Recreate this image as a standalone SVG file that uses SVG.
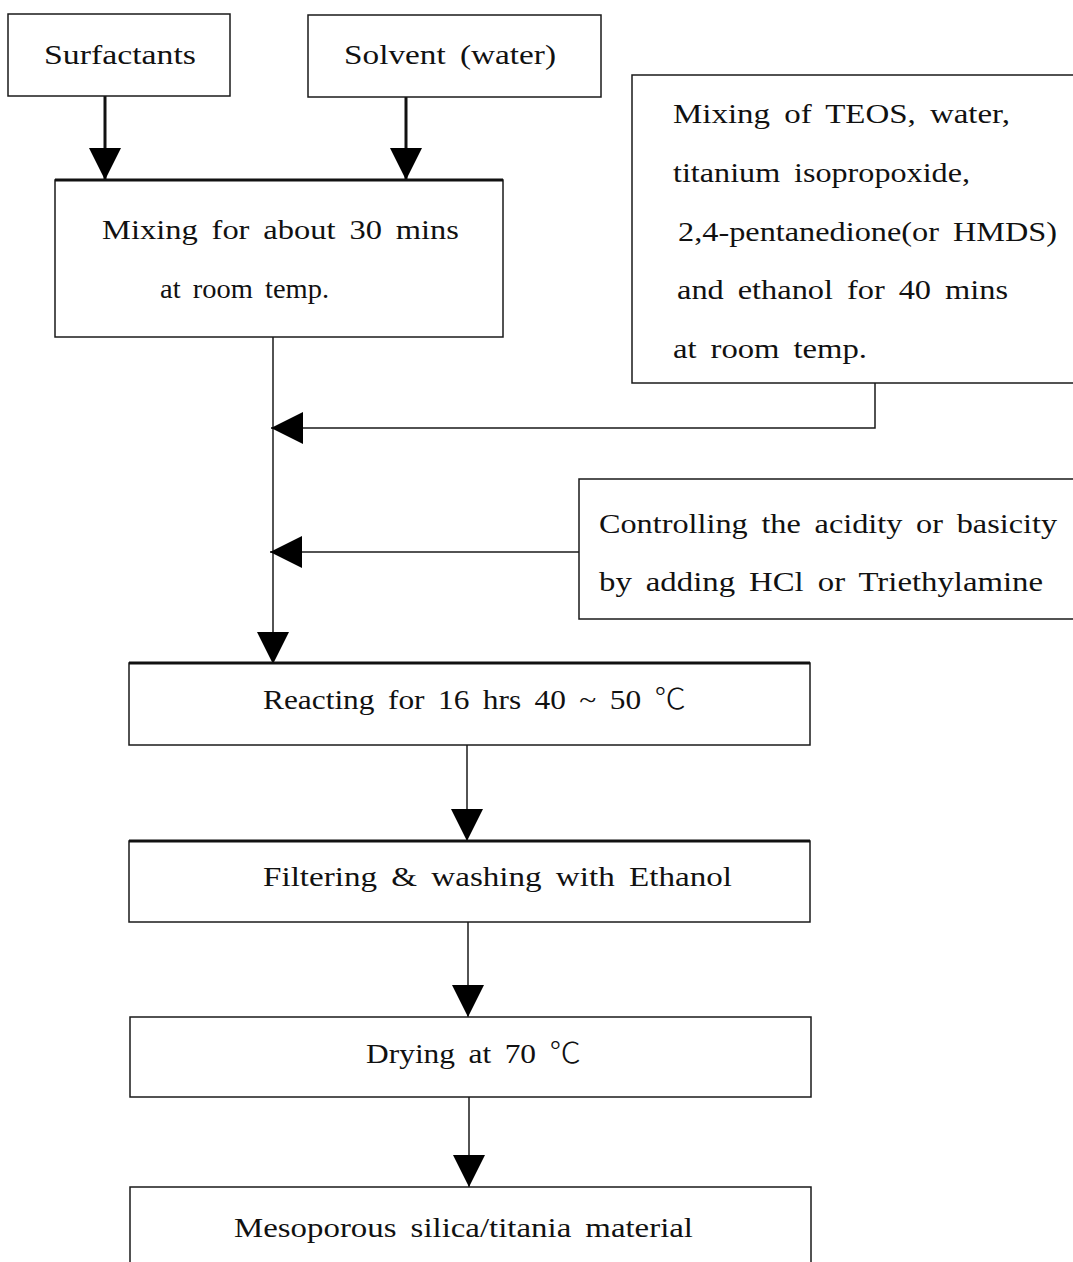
<svg xmlns="http://www.w3.org/2000/svg" width="1073" height="1262" viewBox="0 0 1073 1262">
  <style>
    .box { fill: #ffffff; stroke: #1a1a1a; stroke-width: 1.5; }
    .edge { stroke: #111111; stroke-width: 3; }
    .lbl { font-family: "Liberation Serif", "DejaVu Serif", "Noto Sans CJK KR", serif; font-size: 28px; fill: #111111; word-spacing: 5px; }
    .deg { font-family: "Noto Sans CJK KR", "DejaVu Sans", sans-serif; font-weight: 300; }
    .flow { fill: none; stroke: #1a1a1a; stroke-width: 1.5; }
    .flow-thick { fill: none; stroke: #111111; stroke-width: 3; }
  </style>
  <defs>
    <marker id="head" markerUnits="userSpaceOnUse" markerWidth="32" markerHeight="32" refX="32" refY="16" orient="auto" viewBox="0 0 32 32">
      <path d="M0,0 L32,16 L0,32 Z" fill="#000000"/>
    </marker>
  </defs>

  <!-- flow connectors -->
  <g id="connectors">
    <path class="flow-thick" d="M105,96 V180" marker-end="url(#head)"/>
    <path class="flow-thick" d="M406,97 V180" marker-end="url(#head)"/>
    <path class="flow" d="M273,337 V664" marker-end="url(#head)"/>
    <path class="flow" d="M875,383 V428 H271" marker-end="url(#head)"/>
    <path class="flow" d="M581,552 H270" marker-end="url(#head)"/>
    <path class="flow" d="M467,745 V841" marker-end="url(#head)"/>
    <path class="flow" d="M468,922 V1017" marker-end="url(#head)"/>
    <path class="flow" d="M469,1097 V1187" marker-end="url(#head)"/>
  </g>

  <g id="surfactants">
    <rect class="box" x="8" y="14" width="222" height="82"/>
    <text class="lbl" x="44" y="64" textLength="152" lengthAdjust="spacingAndGlyphs">Surfactants</text>
  </g>

  <g id="solvent">
    <rect class="box" x="308" y="15" width="293" height="82"/>
    <text class="lbl" x="344" y="64" textLength="212" lengthAdjust="spacingAndGlyphs">Solvent (water)</text>
  </g>

  <g id="mixing">
    <rect class="box" x="55" y="180" width="448" height="157"/>
    <line class="edge" x1="55" y1="180" x2="503" y2="180"/>
    <text class="lbl" x="102" y="239" textLength="357" lengthAdjust="spacingAndGlyphs">Mixing for about 30 mins</text>
    <text class="lbl" x="160" y="298" textLength="169" lengthAdjust="spacingAndGlyphs">at room temp.</text>
  </g>

  <g id="teos-mixing">
    <rect class="box" x="632" y="75" width="460" height="308"/>
    <text class="lbl" x="673" y="123" textLength="337" lengthAdjust="spacingAndGlyphs">Mixing of TEOS, water,</text>
    <text class="lbl" x="673" y="182" textLength="297" lengthAdjust="spacingAndGlyphs">titanium isopropoxide,</text>
    <text class="lbl" x="678" y="241" textLength="379" lengthAdjust="spacingAndGlyphs">2,4-pentanedione(or HMDS)</text>
    <text class="lbl" x="677" y="299" textLength="331" lengthAdjust="spacingAndGlyphs">and ethanol for 40 mins</text>
    <text class="lbl" x="673" y="358" textLength="194" lengthAdjust="spacingAndGlyphs">at room temp.</text>
  </g>

  <g id="ph-control">
    <rect class="box" x="579" y="479" width="510" height="140"/>
    <text class="lbl" x="599" y="533" textLength="458" lengthAdjust="spacingAndGlyphs">Controlling the acidity or basicity</text>
    <text class="lbl" x="599" y="591" textLength="444" lengthAdjust="spacingAndGlyphs">by adding HCl or Triethylamine</text>
  </g>

  <g id="reacting">
    <rect class="box" x="129" y="663" width="681" height="82"/>
    <line class="edge" x1="129" y1="663" x2="810" y2="663"/>
    <text class="lbl" x="263" y="709" textLength="423" lengthAdjust="spacingAndGlyphs">Reacting for 16 hrs 40 ~ 50 <tspan class="deg">℃</tspan></text>
  </g>

  <g id="filtering">
    <rect class="box" x="129" y="841" width="681" height="81"/>
    <line class="edge" x1="129" y1="841" x2="810" y2="841"/>
    <text class="lbl" x="263" y="886" textLength="469" lengthAdjust="spacingAndGlyphs">Filtering &amp; washing with Ethanol</text>
  </g>

  <g id="drying">
    <rect class="box" x="130" y="1017" width="681" height="80"/>
    <text class="lbl" x="366" y="1063" textLength="215" lengthAdjust="spacingAndGlyphs">Drying at 70 <tspan class="deg">℃</tspan></text>
  </g>

  <g id="product">
    <rect class="box" x="130" y="1187" width="681" height="90"/>
    <text class="lbl" x="234" y="1237" textLength="459" lengthAdjust="spacingAndGlyphs">Mesoporous silica/titania material</text>
  </g>
</svg>
